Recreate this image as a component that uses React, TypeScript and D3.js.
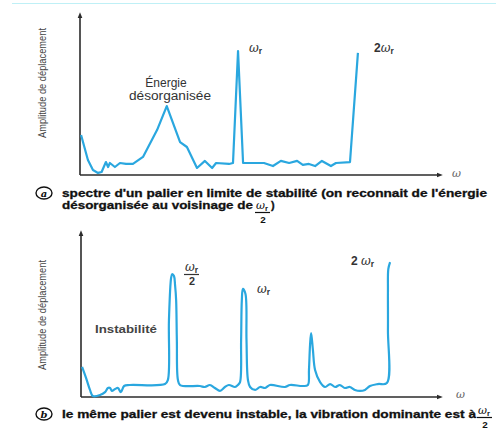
import React from "react";
import * as d3 from "d3";

// Panel (a): frequency (0-100, arbitrary) vs amplitude (0-100, arbitrary)
const topOmega = [0.3, 2.2, 3.6, 5, 6, 7.2, 7.8, 8.3, 9.7, 11.1, 12.8, 14.7, 17.5, 21.4, 24.1, 27.8, 29.7, 32.5, 34.7, 36.7, 37.8, 41.4, 42.5, 43.9, 45.3, 51.1, 53.6, 55.8, 58.1, 60.3, 61.9, 63.6, 65.3, 67.2, 69.7, 71.1, 75, 77.2];
const topAmp = [25, 9.4, 3.1, 1.3, 1.9, 8.1, 5, 7.5, 5, 7.5, 6.9, 6.9, 11.3, 28.1, 43.1, 20.6, 17.5, 4.4, 8.8, 4.4, 7.5, 6.9, 7.5, 77.5, 7.5, 7.5, 5.6, 8.8, 7.5, 8.8, 6.3, 6.9, 5.6, 8.8, 5.6, 7.5, 8.1, 76.3];

// Panel (b)
const botOmega = [0.3, 1.4, 2.5, 3.3, 5.3, 6.7, 7.5, 8.1, 8.6, 9.5, 10.3, 11.1, 12, 13.6, 23.4, 24.2, 24.5, 25.1, 25.4, 25.9, 26.2, 26.5, 26.7, 27, 27.6, 33.1, 34.5, 35.9, 37.3, 38.7, 40.1, 41.2, 42.9, 43.7, 44.3, 44.6, 44.8, 45.1, 45.8, 46.1, 46.5, 47.1, 48.5, 49.9, 51.3, 52.6, 56.8, 58.2, 61.8, 63.2, 63.5, 63.8, 64.1, 64.6, 65.2, 66.6, 68, 69.4, 70.8, 72.1, 73.5, 74.9, 76.3, 77.7, 79.1, 80.5, 82.7, 85.2, 85.5, 85.5, 85.6, 86.1];
const botAmp = [18.3, 11.6, 4.3, 0.6, 1.2, 3, 5.5, 5.5, 3.7, 4.9, 5.5, 3, 6.7, 7.3, 7.9, 10.4, 47, 72.6, 75, 73.8, 68.3, 59.1, 34.8, 10.4, 7.3, 6.7, 6.1, 7.3, 5.5, 3.7, 6.1, 7.3, 6.1, 7.3, 9.1, 34.8, 59.1, 65.9, 63, 34.8, 10.4, 6.1, 4.3, 6.1, 5.5, 7.3, 6.1, 7.3, 6.7, 7.3, 16.5, 31.7, 39, 28.7, 16.5, 9.1, 6.1, 7.9, 6.1, 7.3, 5.5, 6.1, 4.3, 3.7, 4.3, 6.7, 7.9, 8.5, 40.9, 65.2, 78, 82.3];

const yAxisTitle = "Amplitude de déplacement";
const captionA1 = "spectre d'un palier en limite de stabilité (on reconnait de l'énergie";
const captionA2 = "désorganisée au voisinage de";
const captionB = "le même palier est devenu instable, la vibration dominante est à";

const BLUE = "#2aa7df";
const AXIS = "#2b2b2b";

function Omega({ x, y, prefix = "", size = 12, color = "#333" }: { x: number; y: number; prefix?: string; size?: number; color?: string }) {
  return (
    <text x={x} y={y} fontFamily="DejaVu Serif" fontStyle="italic" fontSize={size} fill={color}>
      {prefix && <tspan fontStyle="normal" fontWeight="bold" fontFamily="Liberation Sans">{prefix}</tspan>}
      <tspan>ω</tspan>
      <tspan fontSize={size * 0.7} dy={2} fontStyle="normal" fontWeight="bold" fontFamily="Liberation Sans">r</tspan>
    </text>
  );
}

function Fraction({ cx, y, size = 11, color = "#333" }: { cx: number; y: number; size?: number; color?: string }) {
  return (
    <g>
      <Omega x={cx - 7} y={y} size={size} color={color} />
      <line x1={cx - 8} x2={cx + 7} y1={y + 3.5} y2={y + 3.5} stroke={color} strokeWidth={1.2} />
      <text x={cx} y={y + 13.5} textAnchor="middle" fontFamily="Liberation Sans" fontWeight="bold" fontSize={size * 0.9} fill={color}>2</text>
    </g>
  );
}

function Circled({ cx, cy, letter }: { cx: number; cy: number; letter: string }) {
  return (
    <g>
      <ellipse cx={cx} cy={cy} rx={8} ry={6} fill="none" stroke="#111" strokeWidth={1.4} />
      <text x={cx} y={cy + 3.5} textAnchor="middle" fontFamily="DejaVu Serif" fontStyle="italic" fontWeight="bold" fontSize={10} fill="#111">{letter}</text>
    </g>
  );
}

function Panel({ omega, amp, x0, x1, y0, y1, curve }: any) {
  const x = d3.scaleLinear().domain([0, 100]).range([x0, x1]);
  const y = d3.scaleLinear().domain([0, 100]).range([y0, y1]);
  const pts = omega.map((o: number, i: number) => [o, amp[i]] as [number, number]);
  const line = d3.line<[number, number]>().x((d) => x(d[0])).y((d) => y(d[1])).curve(curve);
  return (
    <g>
      <line x1={x(0)} x2={x(0)} y1={y(0)} y2={y(100) + 2} stroke={AXIS} strokeWidth={1.6} markerEnd="url(#arr)" />
      <line x1={x(0)} x2={x(100) - 2} y1={y(0)} y2={y(0)} stroke={AXIS} strokeWidth={1.6} markerEnd="url(#arr)" />
      <path d={line(pts) || ""} fill="none" stroke={BLUE} strokeWidth={2.2} strokeLinejoin="round" />
    </g>
  );
}

const capStyle = { fontFamily: "Liberation Sans", fontWeight: "bold" as const, fontSize: 11, fill: "#111", stroke: "#111", strokeWidth: 0.3 };

export default function App() {
  return (
    <svg width={496} height={435} style={{ position: "absolute", left: 0, top: 0, background: "#fff" }}>
      <defs>
        <marker id="arr" viewBox="0 0 10 10" refX={2} refY={5} markerWidth={6} markerHeight={6} orient="auto" markerUnits="userSpaceOnUse">
          <path d="M0,1 L10,5 L0,9 Z" fill={AXIS} />
        </marker>
      </defs>
      <line x1={12} x2={496} y1={3.5} y2={3.5} stroke="#bff0f6" strokeWidth={1} />

      {/* Panel a */}
      <Panel omega={topOmega} amp={topAmp} x0={80} x1={440} y0={175} y1={15} curve={d3.curveLinear} />
      <text transform="translate(46,83) rotate(-90)" textAnchor="middle" fontFamily="Liberation Sans" fontSize={10} fill="#444" textLength={110} lengthAdjust="spacingAndGlyphs">{yAxisTitle}</text>
      <text x={452} y={177} fontFamily="DejaVu Serif" fontStyle="italic" fontSize={11} fill="#666">ω</text>
      <text x={166} y={87} textAnchor="middle" fontFamily="Liberation Sans" fontSize={12} fill="#333">Énergie</text>
      <text x={170} y={100} textAnchor="middle" fontFamily="Liberation Sans" fontSize={12} fill="#333" textLength={82} lengthAdjust="spacingAndGlyphs">désorganisée</text>
      <Omega x={249} y={52} />
      <Omega x={374} y={52} prefix="2" />
      <Circled cx={44} cy={193} letter="a" />
      <text x={62} y={197} {...capStyle} textLength={425} lengthAdjust="spacingAndGlyphs">{captionA1}</text>
      <text x={62} y={209} {...capStyle} textLength={191} lengthAdjust="spacingAndGlyphs">{captionA2}</text>
      <Fraction cx={263} y={209} size={11} color="#111" />
      <text x={271} y={209} {...capStyle}>)</text>

      {/* Panel b */}
      <Panel omega={botOmega} amp={botAmp} x0={81} x1={440} y0={397} y1={233} curve={d3.curveCatmullRom.alpha(0.5)} />
      <text transform="translate(46,315) rotate(-90)" textAnchor="middle" fontFamily="Liberation Sans" fontSize={10} fill="#444" textLength={110} lengthAdjust="spacingAndGlyphs">{yAxisTitle}</text>
      <text x={456} y={398} fontFamily="DejaVu Serif" fontStyle="italic" fontSize={11} fill="#666">ω</text>
      <text x={95} y={333} fontFamily="Liberation Sans" fontWeight="bold" fontSize={11.5} fill="#444" textLength={62} lengthAdjust="spacingAndGlyphs">Instabilité</text>
      <Fraction cx={192} y={271} size={12} />
      <Omega x={257} y={293} />
      <Omega x={351} y={265} prefix="2 " />
      <Circled cx={44} cy={414} letter="b" />
      <text x={62} y={418} {...capStyle} textLength={414} lengthAdjust="spacingAndGlyphs">{captionB}</text>
      <Fraction cx={485} y={414} size={11} color="#111" />
    </svg>
  );
}
